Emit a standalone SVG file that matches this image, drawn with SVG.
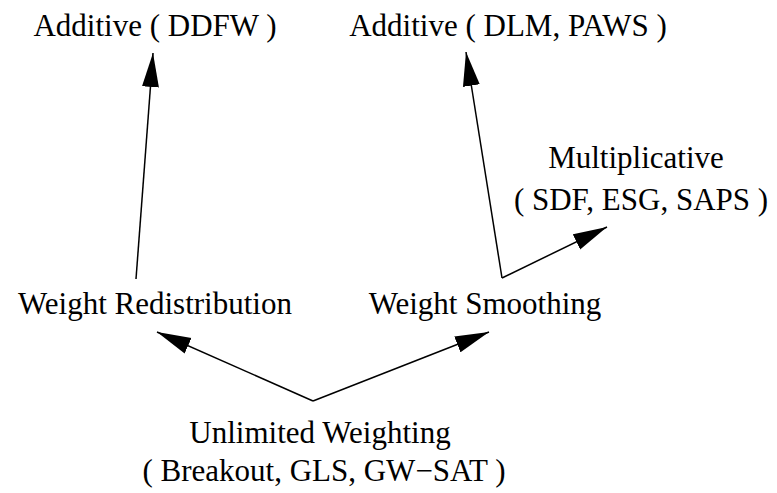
<svg xmlns="http://www.w3.org/2000/svg" width="777" height="493" viewBox="0 0 777 493">
<style>
text{font-family:"Liberation Serif","Times New Roman",serif;font-size:31px;fill:#000;text-anchor:middle}
.c{stroke:#000;stroke-width:1.5;fill:none}
</style>
<defs>
<marker id="ah" markerUnits="userSpaceOnUse" markerWidth="34" markerHeight="18" viewBox="0 0 32 16" refX="32" refY="8" orient="auto">
<path d="M0,0 L32,8 L0,16 z" fill="#000"/>
</marker>
</defs>
<rect width="777" height="493" fill="#fff"/>
<g id="connectors">
<line class="c" x1="136" y1="279" x2="153" y2="53" marker-end="url(#ah)"/>
<line class="c" x1="502" y1="278" x2="466" y2="52" marker-end="url(#ah)"/>
<line class="c" x1="502" y1="278" x2="607" y2="227" marker-end="url(#ah)"/>
<line class="c" x1="313" y1="401" x2="157" y2="332" marker-end="url(#ah)"/>
<line class="c" x1="313" y1="401" x2="489" y2="332" marker-end="url(#ah)"/>
</g>
<g id="additive-ddfw"><text x="155" y="36">Additive ( DDFW )</text></g>
<g id="additive-dlm"><text x="508" y="36">Additive ( DLM, PAWS )</text></g>
<g id="multiplicative"><text x="636" y="168">Multiplicative</text><text x="641" y="210">( SDF, ESG, SAPS )</text></g>
<g id="weight-redistribution"><text x="155" y="314">Weight Redistribution</text></g>
<g id="weight-smoothing"><text x="485" y="314">Weight Smoothing</text></g>
<g id="unlimited-weighting"><text x="320" y="443">Unlimited Weighting</text><text x="324" y="481">( Breakout, GLS, GW−SAT )</text></g>
</svg>
